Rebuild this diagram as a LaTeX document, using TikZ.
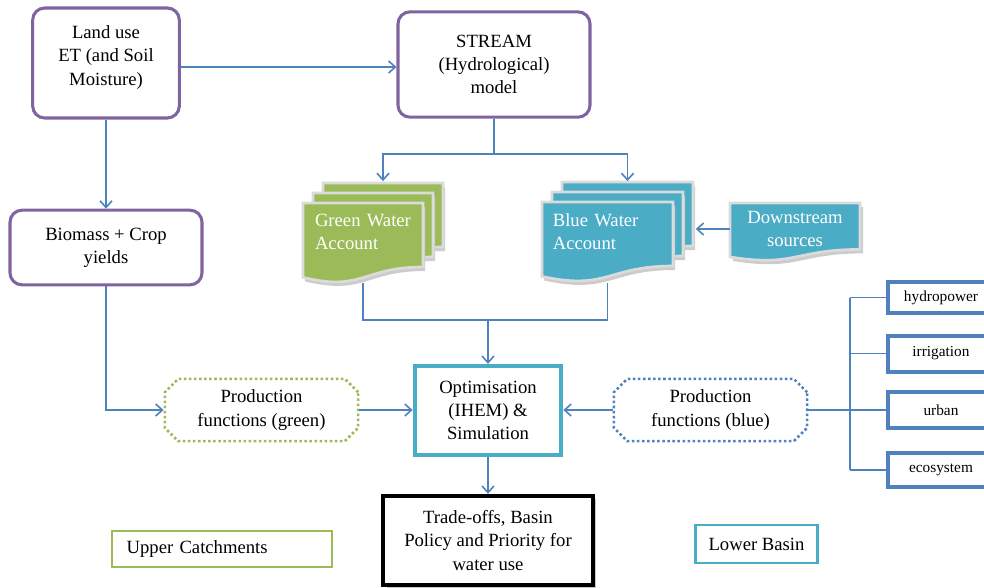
\documentclass[tikz,border=0pt]{standalone}
\usepackage{fontspec}
\setmainfont{Liberation Serif}
\usetikzlibrary{shapes.misc,arrows.meta,shadows}
\definecolor{wpurple}{HTML}{8064A2}
\definecolor{wgreen}{HTML}{9BBB59}
\definecolor{wcyan}{HTML}{4BACC6}
\definecolor{wblue}{HTML}{4F81BD}
% document sheet with a wavy lower edge: x, y (top left), width, height
\newcommand{\docshape}[4]{({#1},{#2}) -- ({#1+#3},{#2}) -- ({#1+#3},{#2+0.80*#4}) .. controls ({#1+0.5*#3},{#2+0.80*#4}) and ({#1+0.5*#3},{#2+1.11*#4}) .. ({#1},{#2+0.93*#4}) -- cycle}

\begin{document}
\begin{tikzpicture}[x=0.75pt,y=-0.75pt,>={Straight Barb[length=5pt,width=9pt]}]
      \tikzstyle{every node}=[font=\fontsize{14}{17.3}\selectfont, align=center]
      \tikzstyle{proc}=[draw=wpurple, line width=2.3pt, rounded corners=9pt]
      \tikzstyle{conn}=[draw=wblue, line width=1.2pt]
      \tikzstyle{arr}=[conn, ->]
      \tikzstyle{sheet}=[draw=white!86!black, line width=2pt]
      \tikzstyle{sheetshadow}=[fill=black!20]
      \tikzstyle{prodfn}=[chamfered rectangle, chamfered rectangle xsep=5pt, chamfered rectangle ysep=5pt, line width=1.9pt, dash pattern=on 1.9pt off 1.9pt, minimum width=145pt, minimum height=45pt]
      \tikzstyle{demand}=[draw=wblue, line width=3pt, minimum width=79.5pt, font=\fontsize{11.5}{14}\selectfont]
      \useasboundingbox (0,0) rectangle (984,587);

      % model boxes
      \node[proc, minimum width=110pt, minimum height=82.5pt] (landuse) at (106,63) {Land use\\ET (and Soil\\Moisture)\\[-6pt]\mbox{}};
      \node[proc, minimum width=144pt, minimum height=79pt] (stream) at (494,64.5) {STREAM\\(Hydrological)\\model};
      \node[proc, minimum width=144pt, minimum height=56pt] (biomass) at (106,247.5) {Biomass + Crop\\yields};

      % water accounts
      \foreach \d in {2,1,0} {
        \fill[sheetshadow] \docshape{305+10*\d}{207-10*\d}{120}{80};
        \filldraw[sheet, fill=wgreen] \docshape{303+10*\d}{203-10*\d}{120}{80};
        \fill[sheetshadow] \docshape{544+10*\d}{206-10*\d}{131}{80};
        \filldraw[sheet, fill=wcyan] \docshape{542+10*\d}{202-10*\d}{131}{80};
      }
      \fill[sheetshadow] \docshape{733}{207}{130}{58};
      \filldraw[sheet, fill=wcyan] \docshape{730}{203}{130}{58};
      \node[text=white, align=left, text width=72pt, inner xsep=9pt, minimum height=76pt] (green) at (363,232) {Green Water\\Account};
      \node[text=white, align=left, text width=82pt, inner xsep=8pt, minimum height=76pt] (blue) at (607.5,232) {Blue Water\\Account};
      \node[text=white, minimum width=97.5pt] (down) at (795,229) {Downstream\\sources};
      \coordinate (blueback) at ([xshift=17pt]blue.east);

      % production functions and optimisation
      \node[prodfn, draw=wgreen] (prodg) at (261.5,410) {Production\\functions (green)};
      \node[prodfn, draw=wblue] (prodb) at (710.5,410) {Production\\functions (blue)};
      \node[draw=wcyan, line width=3pt, minimum width=110pt, minimum height=67pt] (optim) at (488,410.5) {Optimisation\\(IHEM) \&\\Simulation};
      \node[draw=black, fill=white, line width=3pt, minimum width=157pt, minimum height=67pt, drop shadow={shadow xshift=2.5pt, shadow yshift=-2.5pt, fill=black!45}] (trade) at (488,540.5) {Trade-offs, Basin\\Policy and Priority for\\water use};

      % water uses
      \node[demand, minimum height=23pt] (hydro) at (941,297.5) {hydropower};
      \node[demand, minimum height=27pt] (irrig) at (941,353.5) {irrigation};
      \node[demand, minimum height=27pt] (urban) at (941,410) {urban};
      \node[demand, minimum height=25pt] (eco) at (941,470) {ecosystem};
      \coordinate (tree) at (850,410);

      % legend
      \node[draw=wgreen, line width=2.2pt, align=left, text width=143pt, inner xsep=11pt, minimum height=27pt] (upper) at (222,549) {Upper Catchments};
      \node[draw=wcyan, line width=2.2pt, minimum width=92pt, minimum height=28.5pt] (lower) at (756.5,544) {Lower Basin};

      % connectors
      \draw[arr] ([yshift=-3pt]landuse.east) -- ([yshift=-3pt]landuse.east -| stream.west);
      \draw[arr] (landuse.south) -- (biomass.north);
      \draw[arr] (stream.south) -- ++(0,35) -| ([xshift=15pt]green.north);
      \draw[arr] (stream.south) -- ++(0,35) -| ([xshift=15pt]blue.north);
      \draw[arr] (down.west) -- (down.west -| blueback);
      \path (optim.north) ++(0,-44) coordinate (bus);
      \draw[conn] (green.south) |- (bus) -| (blue.south);
      \draw[arr] (bus) -- (optim.north);
      \draw[arr] (biomass.south) |- (prodg.west);
      \draw[arr] (prodg.east) -- (prodg.east -| optim.west);
      \draw[arr] (prodb.west) -- (prodb.west -| optim.east);
      \draw[arr] (optim.south) -- (trade.north);
      \draw[conn] (prodb.east) -- (prodb.east -| tree);
      \draw[conn] (hydro.west -| tree) -- (eco.west -| tree);
      \foreach \n in {hydro,irrig,urban,eco}
        \draw[conn] (\n.west -| tree) -- (\n.west);
\end{tikzpicture}
\end{document}
